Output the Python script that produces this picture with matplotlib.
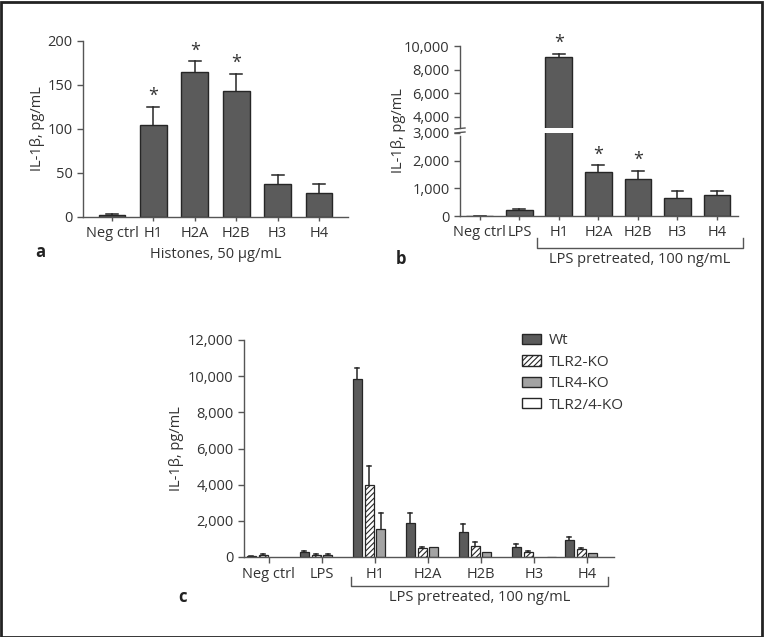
import matplotlib
matplotlib.use("Agg")
import matplotlib.pyplot as plt
import numpy as np
from matplotlib.patches import Patch, Rectangle
import matplotlib.transforms as mtransforms

plt.rcParams['font.family'] = ['Open Sans', 'DejaVu Sans']
plt.rcParams['hatch.linewidth'] = 0.8

# ---------- data ----------
a_cats = ["Neg ctrl", "H1", "H2A", "H2B", "H3", "H4"]
a_vals = [2, 105, 165, 143, 37, 27]
a_errs = [1, 20, 12, 20, 11, 11]
a_star = [False, True, True, True, False, False]

b_cats = ["Neg ctrl", "LPS", "H1", "H2A", "H2B", "H3", "H4"]
b_vals = [10, 230, 9100, 1600, 1350, 640, 750]
b_errs = [5, 40, 250, 250, 290, 260, 165]
b_star = [False, False, True, True, True, False, False]

c_cats = ["Neg ctrl", "LPS", "H1", "H2A", "H2B", "H3", "H4"]
c_series = ["Wt", "TLR2-KO", "TLR4-KO", "TLR2/4-KO"]
c_wt = [50, 280, 9850, 1900, 1400, 570, 950]
c_wt_err = [20, 30, 580, 550, 420, 160, 180]
c_tlr2 = [100, 120, 4000, 480, 610, 300, 430]
c_tlr2_err = [50, 20, 1050, 100, 200, 20, 70]
c_tlr4 = [0, 130, 1530, 550, 300, 0, 220]
c_tlr4_err = [0, 20, 900, 0, 0, 0, 0]
c_tlr24 = [0, 0, 0, 0, 0, 25, 0]
c_tlr24_err = [0, 0, 0, 0, 0, 0, 0]

DARK = "#5b5b5b"
EDGE = "#262626"
LIGHT = "#a3a3a3"
AX = "#555555"
TXT = "#333333"
FS = 10.5

W, H = 764, 637
fig = plt.figure(figsize=(W / 100, H / 100), dpi=100)


def px_axes(l, t, r, b):
    return fig.add_axes([l / W, 1 - b / H, (r - l) / W, (b - t) / H])


def style(ax, bottom=True, left=True):
    for s in ["top", "right"]:
        ax.spines[s].set_visible(False)
    for s in ["left", "bottom"]:
        ax.spines[s].set_color(AX)
        ax.spines[s].set_linewidth(1.0)
    ax.spines["bottom"].set_visible(bottom)
    ax.tick_params(axis="y", colors=AX, labelcolor=TXT, labelsize=FS, length=4, width=1, direction="out")
    ax.tick_params(axis="x", colors=AX, labelcolor=TXT, labelsize=FS, length=3, width=1, direction="out")


def errbars(ax, x, v, e, width):
    for xi, vi, ei in zip(x, v, e):
        if ei <= 0:
            continue
        ax.plot([xi, xi], [vi, vi + ei], color=EDGE, lw=1.1, zorder=1)
        ax.plot([xi - width * 0.22, xi + width * 0.22], [vi + ei, vi + ei], color=EDGE, lw=1.1, zorder=1)


STAR_FS = 13

# ---------- panel a ----------
axa = px_axes(83, 41, 348, 217)
xa = np.arange(len(a_cats))
wa = 0.65
errbars(axa, xa, a_vals, a_errs, wa)
axa.bar(xa, a_vals, width=wa, color=DARK, edgecolor=EDGE, linewidth=1.0, zorder=2)
for xi, v, e, s in zip(xa, a_vals, a_errs, a_star):
    if s:
        axa.text(xi, v + e + 2, "*", ha="center", va="bottom", fontsize=STAR_FS, color=TXT)
axa.set_xlim(-0.7, len(a_cats) - 0.3)
axa.set_ylim(0, 200)
axa.set_yticks([0, 50, 100, 150, 200])
axa.set_xticks(xa)
axa.set_xticklabels(a_cats)
style(axa)
axa.set_ylabel("IL-1β, pg/mL", fontsize=FS, color=TXT, labelpad=2)
axa.set_xlabel("Histones, 50 µg/mL", fontsize=FS, color=TXT, labelpad=4)
fig.text(35 / W, 1 - 252 / H, "a", fontsize=12, fontweight="bold", color="#222222", va="center")

# ---------- panel b ----------
axb_lo = px_axes(460, 133, 738, 216)
axb_hi = px_axes(460, 46, 738, 128)
xb = np.arange(len(b_cats))
wb = 0.68
for ax in (axb_lo, axb_hi):
    errbars(ax, xb, b_vals, b_errs, wb)
    ax.bar(xb, b_vals, width=wb, color=DARK, edgecolor=EDGE, linewidth=1.0, zorder=2)
    ax.set_xlim(-0.5, len(b_cats) - 0.47)
axb_lo.set_ylim(0, 3000)
axb_hi.set_ylim(3070, 10000)
axb_lo.set_yticks([0, 1000, 2000, 3000])
axb_lo.set_yticklabels(["0", "1,000", "2,000", "3,000"])
axb_hi.set_yticks([4000, 6000, 8000, 10000])
axb_hi.set_yticklabels(["4,000", "6,000", "8,000", "10,000"])
style(axb_lo)
style(axb_hi, bottom=False)
axb_hi.set_xticks([])
axb_lo.set_xticks(xb)
axb_lo.set_xticklabels(b_cats)
axb_lo.spines["left"].set_bounds(0, 2880)
for xi, v, e, s in zip(xb, b_vals, b_errs, b_star):
    if s:
        tgt = axb_hi if v > 3000 else axb_lo
        off = 150 if v > 3000 else 50
        tgt.text(xi, v + e + off, "*", ha="center", va="bottom", fontsize=STAR_FS, color=TXT)
# break marks
for y0 in (128.5, 132.5):
    fig.add_artist(plt.Line2D([455 / W, 465 / W], [1 - (y0 + 0.5) / H, 1 - (y0 - 0.5) / H], color=AX, lw=1.0))
fig.text(398 / W, 1 - 131 / H, "IL-1β, pg/mL", rotation=90, ha="center", va="center", fontsize=FS, color=TXT)
# bracket
tb = mtransforms.blended_transform_factory(axb_lo.transData, axb_lo.transAxes)
yb1, yb2 = -0.38, -0.26
axb_lo.plot([1.44, 1.44, 6.66, 6.66], [yb2, yb1, yb1, yb2], transform=tb, color=AX, lw=1.0, clip_on=False)
axb_lo.text(4.05, -0.52, "LPS pretreated, 100 ng/mL", transform=tb, ha="center", va="center", fontsize=FS, color=TXT)
fig.text(396 / W, 1 - 259 / H, "b", fontsize=12, fontweight="bold", color="#222222", va="center")

# ---------- panel c ----------
axc = px_axes(244, 340, 614, 557)
xc = np.arange(len(c_cats))
step = 0.222
wc = 0.17
series = [
    (c_wt, c_wt_err, dict(facecolor=DARK, edgecolor=EDGE)),
    (c_tlr2, c_tlr2_err, dict(facecolor="white", edgecolor=EDGE, hatch="//////")),
    (c_tlr4, c_tlr4_err, dict(facecolor=LIGHT, edgecolor=EDGE)),
    (c_tlr24, c_tlr24_err, dict(facecolor="white", edgecolor=EDGE)),
]
handles = []
for i, (vals, errs, kw) in enumerate(series):
    pos = xc + (i - 1.5) * step
    errbars(axc, pos, vals, errs, wc)
    v = np.array(vals, dtype=float)
    mask = v > 0
    axc.bar(pos[mask], v[mask], width=wc, linewidth=0.9, zorder=2, **kw)
    handles.append(Patch(linewidth=1.0, label=c_series[i], **kw))
axc.set_xlim(-0.47, len(c_cats) - 0.49)
axc.set_ylim(0, 12000)
axc.set_yticks(np.arange(0, 12001, 2000))
axc.set_yticklabels([f"{t:,}" for t in range(0, 12001, 2000)])
axc.set_xticks(xc)
axc.set_xticklabels(c_cats)
style(axc)
axc.tick_params(axis="x", length=4)
axc.set_ylabel("IL-1β, pg/mL", fontsize=FS, color=TXT, labelpad=3)
leg = axc.legend(handles=handles, loc="upper left", bbox_to_anchor=(0.751, 1.03), frameon=False,
                 fontsize=FS + 0.5, handlelength=1.25, handleheight=0.65, labelspacing=0.42, handletextpad=0.5,
                 borderaxespad=0, borderpad=0)
for t in leg.get_texts():
    t.set_color(TXT)
tc = mtransforms.blended_transform_factory(axc.transData, axc.transAxes)
yc1, yc2 = -0.135, -0.09
axc.plot([1.55, 1.55, 6.4, 6.4], [yc2, yc1, yc1, yc2], transform=tc, color=AX, lw=1.0, clip_on=False)
axc.text(3.97, -0.185, "LPS pretreated, 100 ng/mL", transform=tc, ha="center", va="center", fontsize=FS, color=TXT)
fig.text(178 / W, 1 - 597 / H, "c", fontsize=12, fontweight="bold", color="#222222", va="center")

# frame around figure
fig.add_artist(Rectangle((0.5 / W, 0.5 / H), 1 - 2.5 / W, 1 - 2.5 / H, transform=fig.transFigure,
                         fill=False, edgecolor="#222222", linewidth=2.0))

fig.savefig("out.png", dpi=100)
